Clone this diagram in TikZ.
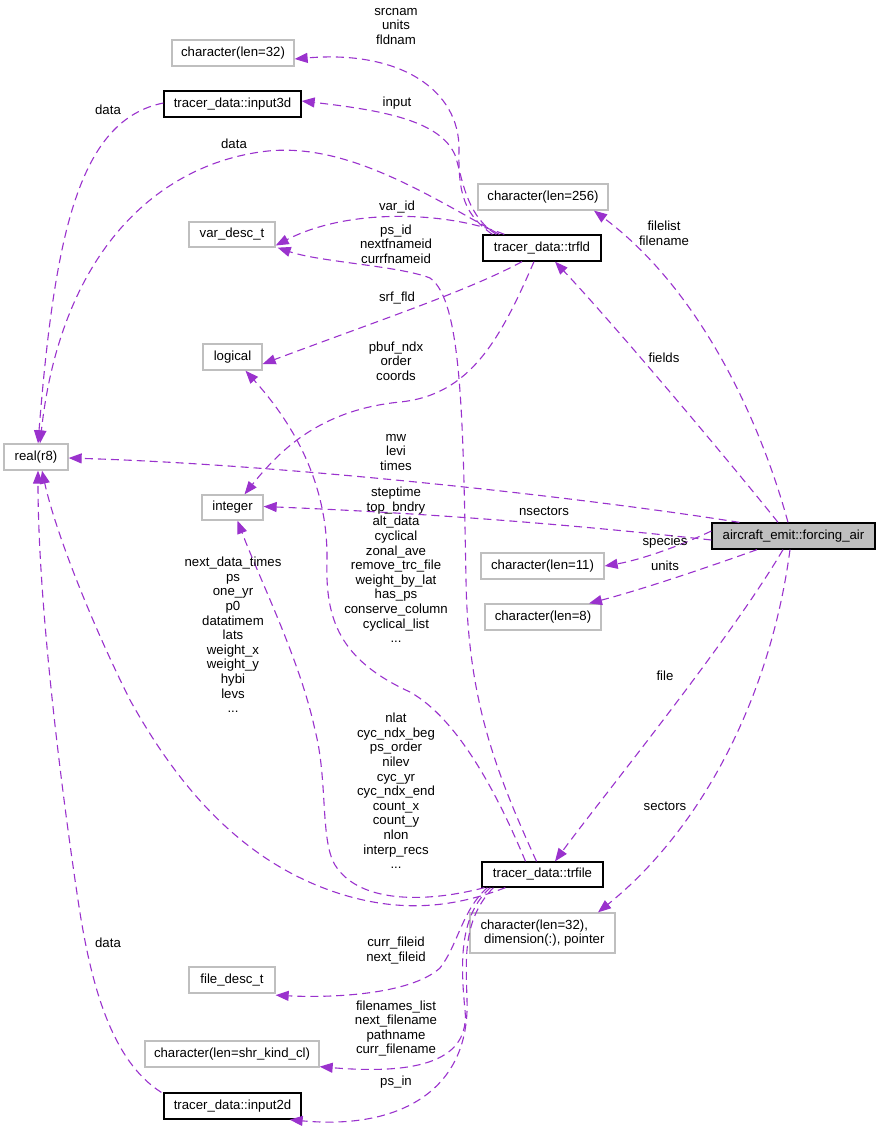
\documentclass[tikz,border=0pt]{standalone}
\usepackage{fontspec}
\setmainfont{Liberation Sans}
\usetikzlibrary{arrows.meta}
\definecolor{edgec}{HTML}{9A32CD}
\definecolor{graybd}{HTML}{BFBFBF}
\begin{document}
\begin{tikzpicture}[x=1pt,y=-1pt,
  every node/.style={font=\fontsize{13.2}{14.6}\selectfont},
  gbox/.style={draw=graybd, line width=1.3pt, fill=white, inner sep=0pt, minimum height=26pt},
  bbox/.style={draw=black, line width=1.3pt, fill=white, inner sep=0pt, minimum height=26pt},
  lbl/.style={align=center, inner sep=0pt},
  edge/.style={draw=edgec, line width=1.1pt, dash pattern=on 8pt off 5pt,
    -{Triangle[length=13pt,width=10pt]}, fill=none}
]
\useasboundingbox (0,0) rectangle (880,1130);

% nodes
\node[gbox, minimum width=122pt] (c32) at (233,53) {character(len=32)};
\node[bbox, minimum width=137pt] (in3d) at (232.5,104) {tracer\_data::input3d};
\node[gbox, minimum width=130pt] (c256) at (543,197) {character(len=256)};
\node[gbox, minimum width=86pt, minimum height=25pt] (vdt) at (232,234.5) {var\_desc\_t};
\node[bbox, minimum width=118pt] (trfld) at (542,248) {tracer\_data::trfld};
\node[gbox, minimum width=59pt] (logical) at (232.5,357) {logical};
\node[gbox, minimum width=64pt] (real) at (36,457) {real(r8)};
\node[gbox, minimum width=61pt, minimum height=25pt] (integer) at (232.5,507.5) {integer};
\node[bbox, fill=graybd, minimum width=163pt] (fa) at (793.5,536) {aircraft\_emit::forcing\_air};
\node[gbox, minimum width=123pt] (c11) at (542.5,566) {character(len=11)};
\node[gbox, minimum width=116pt] (c8) at (543,617) {character(len=8)};
\node[bbox, minimum width=121pt, minimum height=25pt] (trfile) at (542.5,874.5) {tracer\_data::trfile};
\node[gbox, minimum width=145pt, minimum height=40pt, align=left] (cptr) at (542.5,933) {character(len=32),\\\ dimension(:), pointer};
\node[gbox, minimum width=86pt] (fdt) at (232,980) {file\_desc\_t};
\node[gbox, minimum width=174pt] (ccl) at (232,1054) {character(len=shr\_kind\_cl)};
\node[bbox, minimum width=137pt] (in2d) at (232.5,1106) {tracer\_data::input2d};

% edges from forcing_air
\draw[edge] ([xshift=-5.5pt]fa.north) .. controls (760,420) and (700,290) .. ([xshift=51pt]c256.south);
\draw[edge] ([xshift=-15.5pt]fa.north) .. controls (720,450) and (610,320) .. ([xshift=13pt]trfld.south);
\draw[edge] ([xshift=28pt]fa.north west) .. controls (600,500) and (300,465) .. ([yshift=-1pt]real.east);
\draw[edge] ([yshift=-4pt]fa.west) .. controls (550,522) and (400,512) .. ([yshift=1pt]integer.east);
\draw[edge] ([yshift=5pt]fa.west) .. controls (680,546) and (640,560) .. (c11.east);
\draw[edge] ([xshift=-36.5pt]fa.south) .. controls (700,570) and (640,590) .. ([xshift=46pt]c8.north);
\draw[edge] ([xshift=-10.5pt]fa.south) .. controls (730,640) and (600,800) .. ([xshift=12.5pt]trfile.north);
\draw[edge] ([xshift=-3.5pt]fa.south) .. controls (770,700) and (700,830) .. ([xshift=55.5pt]cptr.north);

% edges from trfld
\draw[edge] ([xshift=10pt]trfld.north west) .. controls (465,215) and (458,195) .. (459,150)
   .. controls (460,90) and (400,50) .. ([yshift=-6pt]c32.east);
\draw[edge] ([xshift=14pt]trfld.north west) .. controls (465,215) and (462,175) .. (455,155)
   .. controls (440,120) and (380,110) .. ([yshift=3pt]in3d.east);
\draw[edge] ([xshift=17pt]trfld.north west) .. controls (420,190) and (340,140) .. (260,152)
   .. controls (150,168) and (60,260) .. ([xshift=4pt]real.north);
\draw[edge] ([xshift=22pt]trfld.north west) .. controls (450,212) and (350,207) .. ([yshift=-11pt]vdt.east);
\draw[edge] ([xshift=-20pt]trfld.south) .. controls (470,290) and (380,320) .. ([yshift=-7pt]logical.east);
\draw[edge] ([xshift=-8pt]trfld.south) .. controls (500,340) and (470,395) .. (400,402)
   .. controls (320,410) and (280,450) .. ([xshift=12pt]integer.north);

% edges from input3d / input2d
\draw[edge] ([yshift=1pt]in3d.west) .. controls (80,120) and (55,230) .. ([xshift=2pt]real.north);
\draw[edge] ([xshift=-2pt]in2d.north west) .. controls (110,1060) and (90,980) .. (78,900)
   .. controls (60,780) and (38,600) .. ([xshift=2pt]real.south);

% edges from trfile
\draw[edge] ([xshift=-6pt]trfile.north) .. controls (495,770) and (468,700) .. (466,580)
   .. controls (463,420) and (462,300) .. (430,278)
   .. controls (400,266) and (320,262) .. ([xshift=2pt]vdt.south east);
\draw[edge] ([xshift=-17pt]trfile.north) .. controls (500,800) and (460,720) .. (410,692)
   .. controls (340,660) and (325,620) .. (327,560)
   .. controls (328,480) and (290,420) .. ([xshift=13pt]logical.south);
\draw[edge] ([xshift=3pt]trfile.south west) .. controls (430,902) and (360,905) .. (335,865)
   .. controls (320,840) and (328,780) .. (315,730)
   .. controls (300,660) and (260,580) .. ([xshift=5pt]integer.south);
\draw[edge] ([xshift=24pt]trfile.south west) .. controls (460,905) and (400,918) .. (321,887)
   .. controls (240,855) and (180,790) .. (130,700)
   .. controls (90,620) and (55,530) .. ([xshift=6pt]real.south);
\draw[edge] ([xshift=6pt]trfile.south west) .. controls (462,910) and (458,945) .. (440,968)
   .. controls (410,995) and (330,998) .. ([yshift=-1.5pt]fdt.south east);
\draw[edge] ([xshift=9pt]trfile.south west) .. controls (460,915) and (460,960) .. (465,1010)
   .. controls (470,1060) and (420,1075) .. ([yshift=1pt]ccl.south east);
\draw[edge] ([xshift=12pt]trfile.south west) .. controls (462,920) and (466,960) .. (467,1000)
   .. controls (470,1090) and (400,1130) .. ([xshift=-12pt]in2d.south east);

% labels
\node[lbl] (l1) at (396,26.5) {srcnam\\units\\fldnam};
\node[lbl] (l2) at (397,103) {input};
\node[lbl] (l3) at (108,110) {data};
\node[lbl] (l4) at (234,144) {data};
\node[lbl] (l5) at (397,207) {var\_id};
\node[lbl] (l6) at (396,244) {ps\_id\\nextfnameid\\currfnameid};
\node[lbl] (l7) at (397,298) {srf\_fld};
\node[lbl] (l8) at (396,361) {pbuf\_ndx\\order\\coords};
\node[lbl] (l9) at (396,452.5) {mw\\levi\\times};
\node[lbl] (l10) at (396,565) {steptime\\top\_bndry\\alt\_data\\cyclical\\zonal\_ave\\remove\_trc\_file\\weight\_by\_lat\\has\_ps\\conserve\_column\\cyclical\_list\\...};
\node[lbl] (l11) at (544,511) {nsectors};
\node[lbl] (l12) at (664,233) {filelist\\filename};
\node[lbl] (l13) at (664,358) {fields};
\node[lbl] (l14) at (665,542) {species};
\node[lbl] (l15) at (665,566) {units};
\node[lbl] (l16) at (665,676) {file};
\node[lbl] (l17) at (665,806) {sectors};
\node[lbl] (l18) at (233,635) {next\_data\_times\\ps\\one\_yr\\p0\\datatimem\\lats\\weight\_x\\weight\_y\\hybi\\levs\\...};
\node[lbl] (l19) at (396,791) {nlat\\cyc\_ndx\_beg\\ps\_order\\nilev\\cyc\_yr\\cyc\_ndx\_end\\count\_x\\count\_y\\nlon\\interp\_recs\\...};
\node[lbl] (l20) at (108,943) {data};
\node[lbl] (l21) at (396,950.5) {curr\_fileid\\next\_fileid};
\node[lbl] (l22) at (396,1028.5) {filenames\_list\\next\_filename\\pathname\\curr\_filename};
\node[lbl] (l23) at (396,1082) {ps\_in};
\end{tikzpicture}
\end{document}
